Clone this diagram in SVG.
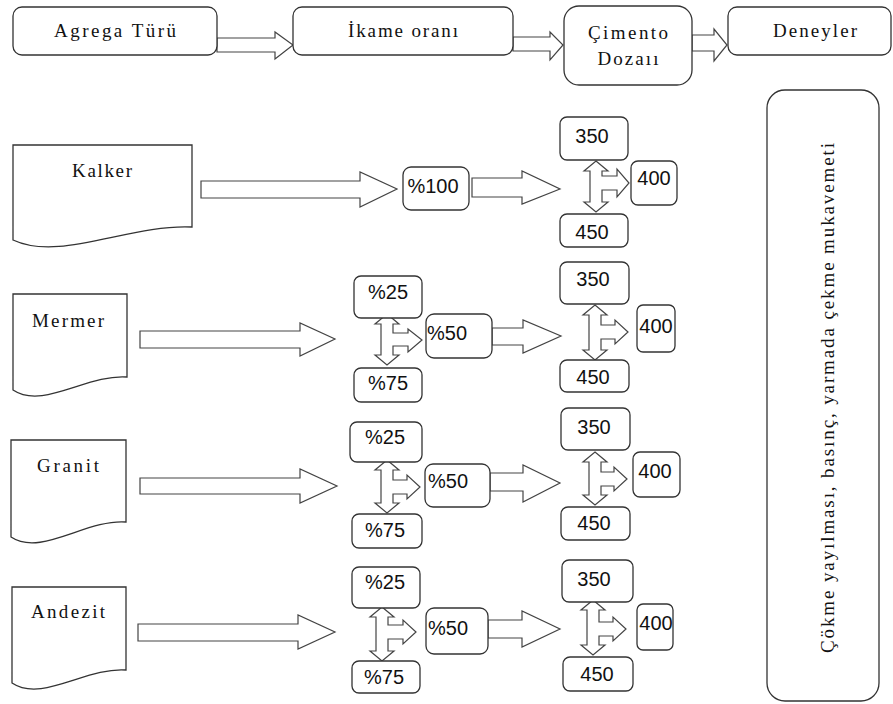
<svg xmlns="http://www.w3.org/2000/svg" width="893" height="704" viewBox="0 0 893 704">
<style>
.box{fill:#fff;stroke:#333;stroke-width:1.3}
.doc{fill:#fff;stroke:#333;stroke-width:1.3}
.arr{fill:#fff;stroke:#444;stroke-width:1.2;stroke-linejoin:miter}
.ser{font-family:"Liberation Serif","Times New Roman",serif;font-size:19px;fill:#111;text-anchor:middle}
.num{font-family:"Liberation Sans",Arial,sans-serif;font-size:20px;fill:#111;text-anchor:middle}
</style>
<rect width="893" height="704" fill="#fff"/>

<g id="connectors">
  <path class="arr" d="M217,38 H275 V32 L293,45 L275,59 V52 H217 Z"/>
  <path class="arr" d="M513,37 H550 V32 L563,45 L550,60 V51 H513 Z"/>
  <path class="arr" d="M692,35 H714 V29 L727,45 L714,61 V51 H692 Z"/>
  <path class="arr" d="M201,181 H360 V172 L397,189 L360,207 V198 H201 Z"/>
  <path class="arr" d="M472,178 H522 V171 L560,189 L522,204 V197 H472 Z"/>
  <path class="arr" d="M596,161 L608,171 L602,171 L602,176 L617,176 L617,169 L629,183 L617,197 L617,190 L602,190 L602,202 L608,202 L596,212 L584,202 L590,202 L590,171 L584,171 Z"/>
  <path class="arr" d="M140,331 H300 V323 L335,339 L300,356 V348 H140 Z"/>
  <path class="arr" d="M387,314 L399,324 L393,324 L393,333 L408,333 L408,329 L422,340 L408,352 L408,346 L393,346 L393,355 L399,355 L387,365 L375,355 L381,355 L381,324 L375,324 Z"/>
  <path class="arr" d="M492,328 H523 V320 L561,336 L523,353 V345 H492 Z"/>
  <path class="arr" d="M595,305 L607,315 L601,315 L601,325 L615,325 L615,320 L628,332 L615,344 L615,339 L601,339 L601,350 L607,350 L595,360 L583,350 L589,350 L589,315 L583,315 Z"/>
  <path class="arr" d="M140,478 H300 V469 L337,486 L300,503 V494 H140 Z"/>
  <path class="arr" d="M387,460 L399,470 L393,470 L393,480 L407,480 L407,475 L420,487 L407,499 L407,494 L393,494 L393,503 L399,503 L387,513 L375,503 L381,503 L381,470 L375,470 Z"/>
  <path class="arr" d="M490,473 H523 V465 L560,483 L523,502 V491 H490 Z"/>
  <path class="arr" d="M595,452 L607,462 L601,462 L601,472 L614,472 L614,467 L627,479 L614,491 L614,486 L601,486 L601,495 L607,495 L595,505 L583,495 L589,495 L589,462 L583,462 Z"/>
  <path class="arr" d="M138,624 H298 V615 L335,632 L298,649 V641 H138 Z"/>
  <path class="arr" d="M382,607 L394,617 L388,617 L388,625 L403,625 L403,620 L416,632 L403,644 L403,639 L388,639 L388,651 L394,651 L382,661 L370,651 L376,651 L376,617 L370,617 Z"/>
  <path class="arr" d="M488,620 H522 V611 L560,629 L522,647 V638 H488 Z"/>
  <path class="arr" d="M593,600 L605,610 L599,610 L599,622 L613,622 L613,617 L626,629 L613,641 L613,636 L599,636 L599,645 L605,645 L593,655 L581,645 L587,645 L587,610 L581,610 Z"/>
</g>

<g id="agrega-turu"><rect class="box" x="13" y="7" width="204" height="48" rx="9"/><text class="ser" x="115" y="37" textLength="122" lengthAdjust="spacing">Agrega Türü</text></g>
<g id="ikame-orani"><rect class="box" x="293" y="7" width="220" height="48" rx="9"/><text class="ser" x="403" y="37" textLength="110" lengthAdjust="spacing">İkame oranı</text></g>
<g id="cimento-dozaii"><rect class="box" x="564" y="6" width="128" height="79" rx="15"/><text class="ser" x="628" y="39" textLength="80" lengthAdjust="spacing">Çimento</text><text class="ser" x="628" y="65" textLength="61" lengthAdjust="spacing">Dozaıı</text></g>
<g id="deneyler"><rect class="box" x="728" y="7" width="163" height="48" rx="9"/><text class="ser" x="815" y="37" textLength="84" lengthAdjust="spacing">Deneyler</text></g>
<g id="deney-listesi"><rect class="box" x="767" y="90" width="112" height="611" rx="18"/><text class="ser" transform="translate(834,398) rotate(-90)" x="0" y="0" textLength="510" lengthAdjust="spacing">Çökme yayılması, basınç, yarmada çekme mukavemeti</text></g>
<g id="kalker"><path class="doc" d="M13,145 H192 V227 C129,224 60,262 13,240 Z"/><text class="ser" x="102" y="177" textLength="60" lengthAdjust="spacing">Kalker</text></g>
<g id="mermer"><path class="doc" d="M13,294 H127 V377 C87,374 43,410 13,390 Z"/><text class="ser" x="68" y="327" textLength="72" lengthAdjust="spacing">Mermer</text></g>
<g id="granit"><path class="doc" d="M11,440 H126 V522 C86,519 41,557 11,537 Z"/><text class="ser" x="68" y="472" textLength="62" lengthAdjust="spacing">Granit</text></g>
<g id="andezit"><path class="doc" d="M12,587 H126 V670 C86,667 42,703 12,683 Z"/><text class="ser" x="68" y="618" textLength="74" lengthAdjust="spacing">Andezit</text></g>

<g id="kalker-100"><rect class="box" x="403" y="167" width="66" height="43" rx="8"/><text class="num" x="433" y="193">%100</text></g>
<g id="kalker-350"><rect class="box" x="560" y="117" width="68" height="43" rx="7"/><text class="num" x="592" y="143">350</text></g>
<g id="kalker-400"><rect class="box" x="631" y="161" width="46" height="44" rx="7"/><text class="num" x="654" y="185">400</text></g>
<g id="kalker-450"><rect class="box" x="560" y="214" width="68" height="33" rx="7"/><text class="num" x="592" y="239">450</text></g>
<g id="mermer-25"><rect class="box" x="354" y="276" width="68" height="42" rx="7"/><text class="num" x="388" y="299">%25</text></g>
<g id="mermer-75"><rect class="box" x="354" y="368" width="68" height="34" rx="7"/><text class="num" x="388" y="390">%75</text></g>
<g id="mermer-50"><rect class="box" x="426" y="314" width="66" height="44" rx="8"/><text class="num" x="447" y="340">%50</text></g>
<g id="mermer-350"><rect class="box" x="560" y="262" width="69" height="42" rx="7"/><text class="num" x="593" y="286">350</text></g>
<g id="mermer-400"><rect class="box" x="637" y="305" width="38" height="47" rx="6"/><text class="num" x="656" y="333">400</text></g>
<g id="mermer-450"><rect class="box" x="560" y="360" width="69" height="32" rx="7"/><text class="num" x="593" y="384">450</text></g>
<g id="granit-25"><rect class="box" x="350" y="422" width="72" height="40" rx="7"/><text class="num" x="385" y="444">%25</text></g>
<g id="granit-75"><rect class="box" x="352" y="514" width="70" height="34" rx="7"/><text class="num" x="385" y="537">%75</text></g>
<g id="granit-50"><rect class="box" x="425" y="464" width="65" height="43" rx="8"/><text class="num" x="448" y="488">%50</text></g>
<g id="granit-350"><rect class="box" x="561" y="408" width="69" height="42" rx="7"/><text class="num" x="594" y="434">350</text></g>
<g id="granit-400"><rect class="box" x="633" y="452" width="47" height="45" rx="7"/><text class="num" x="655" y="478">400</text></g>
<g id="granit-450"><rect class="box" x="561" y="507" width="69" height="33" rx="7"/><text class="num" x="594" y="530">450</text></g>
<g id="andezit-25"><rect class="box" x="352" y="567" width="68" height="41" rx="7"/><text class="num" x="385" y="589">%25</text></g>
<g id="andezit-75"><rect class="box" x="352" y="661" width="68" height="32" rx="7"/><text class="num" x="384" y="684">%75</text></g>
<g id="andezit-50"><rect class="box" x="426" y="608" width="62" height="46" rx="8"/><text class="num" x="448" y="635">%50</text></g>
<g id="andezit-350"><rect class="box" x="562" y="560" width="71" height="42" rx="7"/><text class="num" x="594" y="586">350</text></g>
<g id="andezit-400"><rect class="box" x="637" y="604" width="36" height="46" rx="6"/><text class="num" x="656" y="630">400</text></g>
<g id="andezit-450"><rect class="box" x="563" y="657" width="70" height="34" rx="7"/><text class="num" x="597" y="681">450</text></g>
</svg>
